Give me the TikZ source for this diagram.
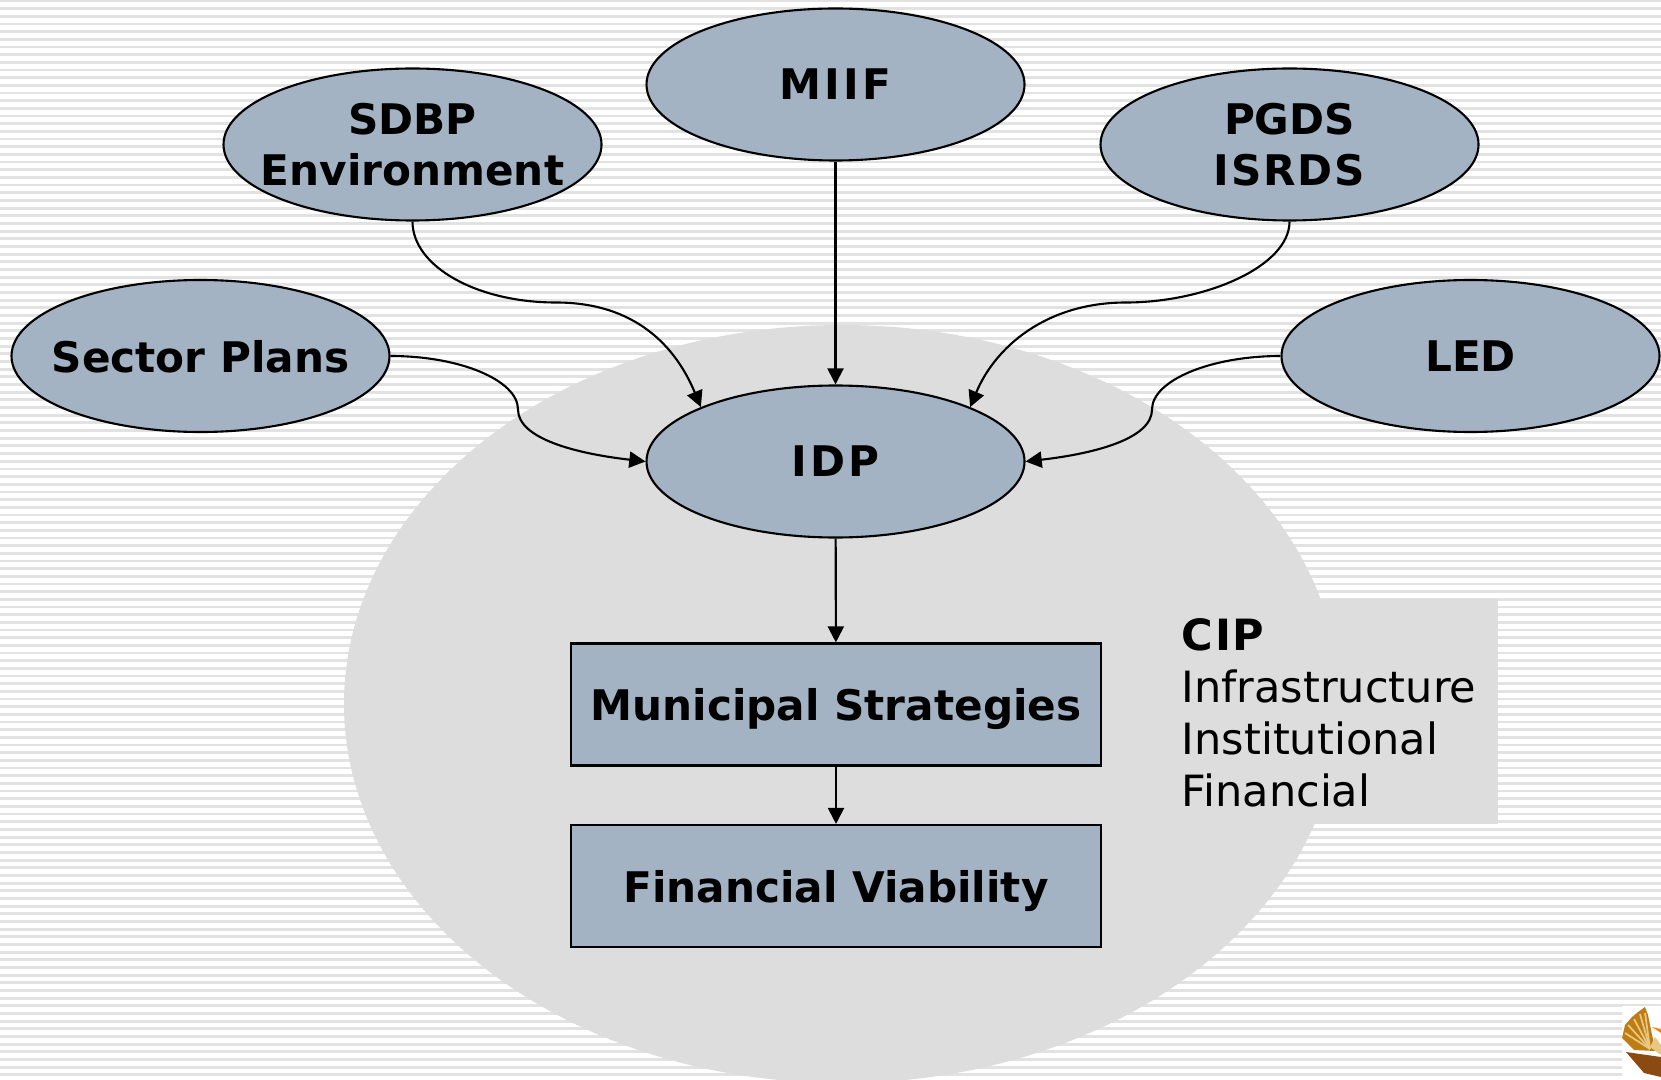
\documentclass[tikz,border=0pt]{standalone}
\usepackage{fontspec}
\setmainfont{DejaVu Sans}
\usetikzlibrary{shapes.geometric,arrows.meta}
\definecolor{slateblue}{HTML}{A3B3C3}
\definecolor{palegray}{HTML}{DDDDDD}
\definecolor{stripegray}{HTML}{E2E2E2}
\definecolor{logogold}{HTML}{BE7C14}
\definecolor{logobrown}{HTML}{8A4A12}
\definecolor{logopale}{HTML}{E8C880}
\newcommand{\snug}[1]{\makebox[0pt]{#1}}
\newcommand{\airy}[2]{{\addfontfeatures{LetterSpace=#1}#2}}
\tikzset{
  plan/.style={ellipse,draw=black,line width=0.6pt,fill=slateblue,minimum width=3.78cm,minimum height=1.52cm,inner sep=0pt,align=center,text depth=-1.4pt,font=\fontsize{12pt}{14.5pt}\selectfont\bfseries},
  stage/.style={rectangle,draw=black,line width=0.6pt,fill=slateblue,minimum width=5.30cm,minimum height=1.22cm,inner sep=0pt,text depth=-0.6pt,font=\fontsize{12pt}{14pt}\selectfont\bfseries},
  flow/.style={draw=black,line width=0.6pt,-{Triangle[length=4.6pt,width=4.6pt]}}
}
\begin{document}
\begin{tikzpicture}
\useasboundingbox (0,0) rectangle (16.61,10.79);
\fill[white] (0,0) rectangle (16.61,10.79);
\foreach \n in {0,...,140}{
  \draw[stripegray,line width=0.8pt] (0,{10.78-\n*0.0767}) -- (16.61,{10.78-\n*0.0767});
}
\begin{scope}
  \clip (0,0) rectangle (16.61,10.79);
  \fill[palegray] (8.42,3.75) ellipse (4.98 and 3.79);
\end{scope}
\node[fill=palegray,minimum width=3.28cm,minimum height=2.25cm,inner sep=0pt] (cipbox) at (13.34,3.68) {};
\node[anchor=west,inner sep=0pt,align=left,font=\fontsize{12.25pt}{14.8pt}\selectfont] (cip) at (11.81,3.665) {{\bfseries\airy{4}{CIP}}\\Infrastructure\\Institutional\\Financial};

\node[plan] (miif) at (8.355,9.945) {\airy{7.5}{MIIF}};
\node[plan] (sdbp) at (4.125,9.345) {SDBP\\\snug{Environment}};
\node[plan] (pgds) at (12.895,9.345) {PGDS\\\airy{4.5}{ISRDS}};
\node[plan] (sector) at (2.005,7.23) {\snug{Sector Plans}};
\node[plan] (led) at (14.705,7.23) {LED};
\node[plan] (idp) at (8.355,6.175) {\airy{6.6}{IDP}};
\node[stage] (strategies) at (8.36,3.745) {Municipal Strategies};
\node[stage] (viability) at (8.36,1.93) {Financial Viability};

\coordinate (bendsdbp) at (5.56,7.765);
\coordinate (bendpgds) at (11.26,7.765);
\coordinate (bendsector) at (5.18,6.695);
\coordinate (bendled) at (11.52,6.695);

\draw[flow] (miif) -- (idp);
\draw[flow] (sdbp.south) .. controls +(0,-0.45) and +(-0.79,0) .. (bendsdbp) .. controls +(0.8,0) and +(-0.25,0.6) .. (idp.158);
\draw[flow] (pgds.south) .. controls +(0,-0.45) and +(0.79,0) .. (bendpgds) .. controls +(-0.8,0) and +(0.25,0.6) .. (idp.22);
\draw[flow] (sector.east) .. controls +(0.7,0) and +(0,0.29) .. (bendsector) .. controls +(0,-0.29) and +(-0.7,0.08) .. (idp.west);
\draw[flow] (led.west) .. controls +(-0.7,0) and +(0,0.29) .. (bendled) .. controls +(0,-0.29) and +(0.7,0.08) .. (idp.east);
\draw[flow] (idp) -- (strategies);
\draw[flow] (strategies) -- (viability);

\fill[white] (16.22,0) rectangle (16.61,0.73);
\fill[logogold] (16.22,0.41) -- (16.25,0.54) -- (16.32,0.62) -- (16.38,0.67) -- (16.45,0.72) -- (16.48,0.64) -- (16.52,0.44) -- (16.56,0.28) -- (16.34,0.29) -- cycle;
\fill[logopale] (16.50,0.32) -- (16.55,0.42) -- (16.61,0.34) -- (16.61,0.24) -- cycle;
\fill[logobrown] (16.26,0.27) -- (16.61,0.22) -- (16.61,0.02) -- (16.44,0.06) -- cycle;
\foreach \x/\y in {16.25/0.46,16.28/0.54,16.34/0.60,16.40/0.65,16.45/0.66}{
  \draw[logopale,line width=0.5pt] (\x,\y) -- (16.50,0.30);
}
\fill[orange!85!brown] (16.52,0.52) -- (16.61,0.50) -- (16.61,0.46) -- cycle;
\end{tikzpicture}
\end{document}
